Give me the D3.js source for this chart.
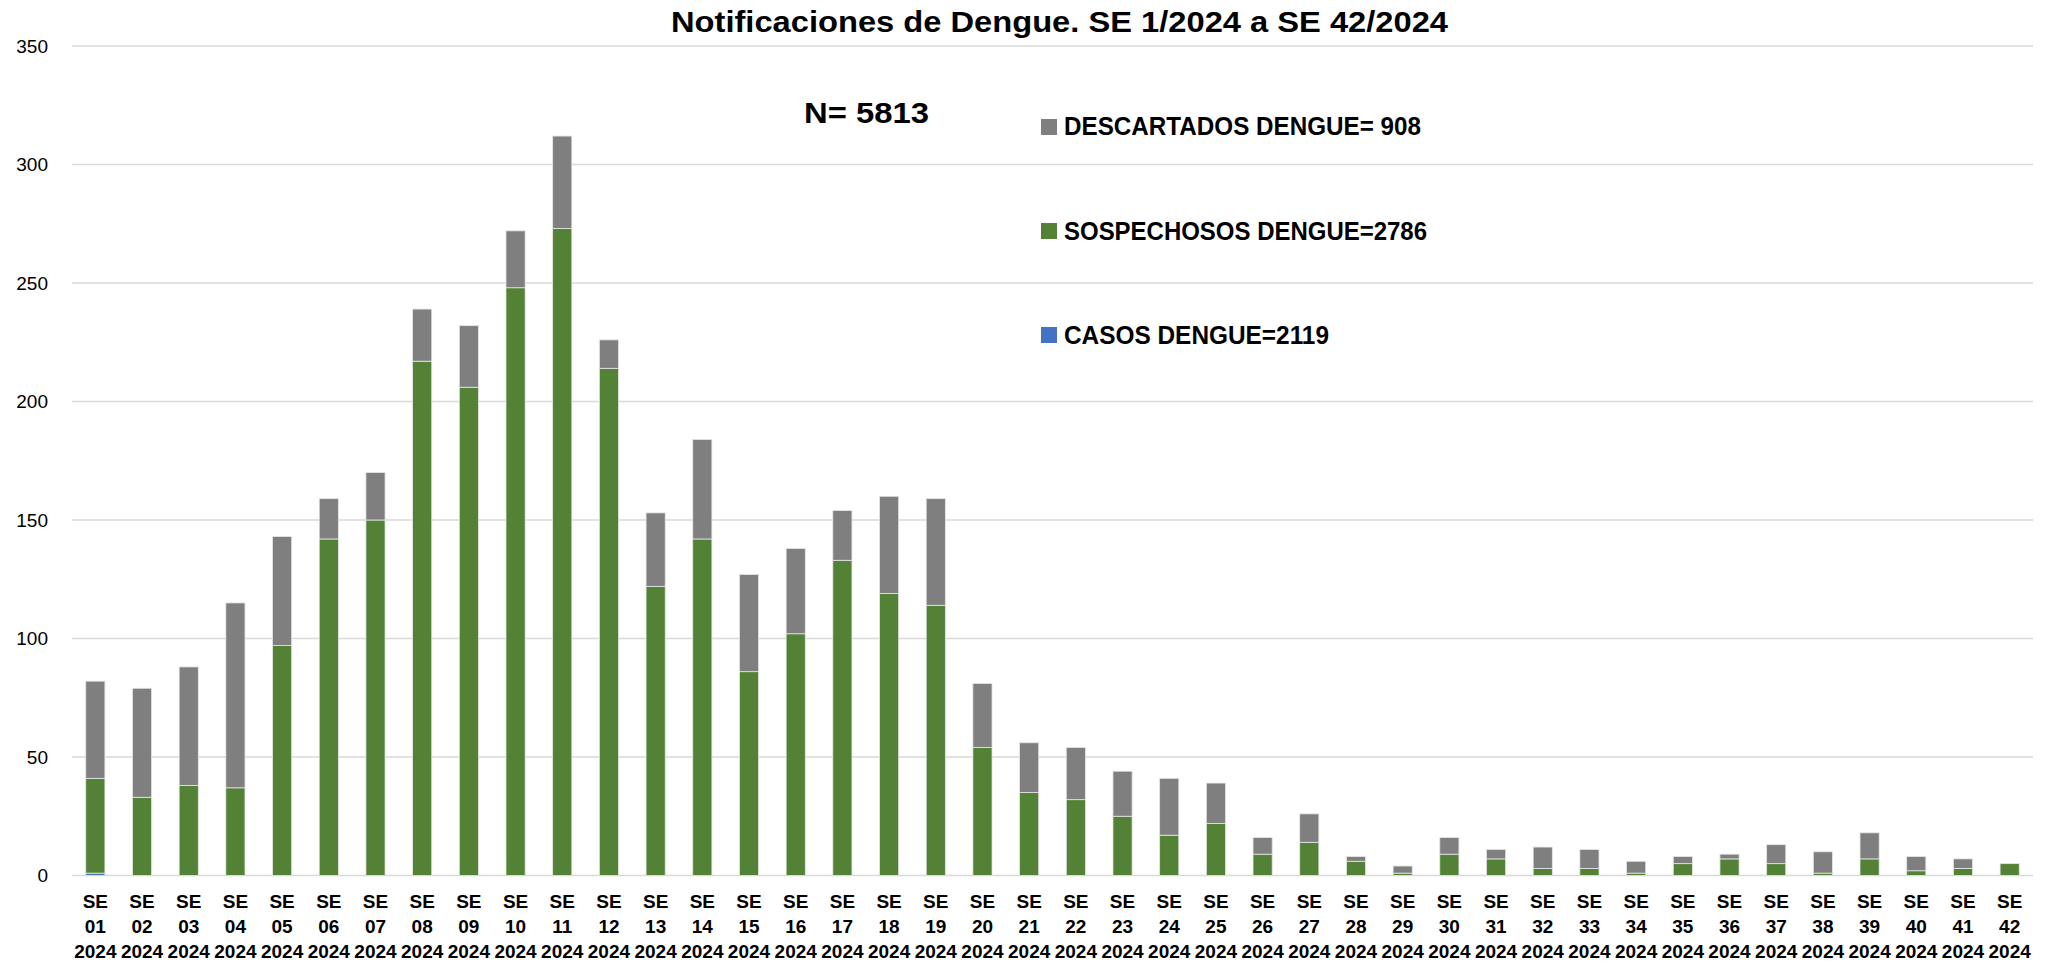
<!DOCTYPE html>
<html><head><meta charset="utf-8">
<script src="https://cdn.jsdelivr.net/npm/d3@7"></script>
<style>
html,body{margin:0;padding:0;background:#fff;}
svg{display:block;font-family:"Liberation Sans",Arial,sans-serif;}
</style></head>
<body>
<svg id="chart" width="2051" height="964"></svg>
<script>
const weeks = ["01","02","03","04","05","06","07","08","09","10","11","12","13","14","15","16","17","18","19","20","21","22","23","24","25","26","27","28","29","30","31","32","33","34","35","36","37","38","39","40","41","42"];
const casos = [1,0,0,0,0,0,0,0,0,0,0,0,0,0,0,0,0,0,0,0,0,0,0,0,0,0,0,0,0,0,0,0,0,0,0,0,0,0,0,0,0,0];
const sospechosos = [40,33,38,37,97,142,150,217,206,248,273,214,122,142,86,102,133,119,114,54,35,32,25,17,22,9,14,6,1,9,7,3,3,1,5,7,5,1,7,2,3,5];
const descartados = [41,46,50,78,46,17,20,22,26,24,39,12,31,42,41,36,21,41,45,27,21,22,19,24,17,7,12,2,3,7,4,9,8,5,3,2,8,9,11,6,4,0];
const yTicks = [0,50,100,150,200,250,300,350];
const seriesNames = ["CASOS DENGUE=2119","SOSPECHOSOS DENGUE=2786","DESCARTADOS DENGUE= 908"];
const titleText = "Notificaciones de Dengue. SE 1/2024 a SE 42/2024";
const nText = "N= 5813";

(function(){
const colors = {casos:"#4472c4", sospechosos:"#538135", descartados:"#7f7f7f"};

const rows = weeks.map((w,i)=>({week:w, casos:casos[i], sospechosos:sospechosos[i], descartados:descartados[i]}));
const keys = ["casos","sospechosos","descartados"];

const svg = d3.select("#chart");
const pLeft = 72, pRight = 2033, pTop = 46, pBottom = 875.5;

const x = d3.scaleBand().domain(weeks).range([pLeft,pRight]).paddingInner(0.59).paddingOuter(0.295);
const y = d3.scaleLinear().domain([0,350]).range([pBottom,pTop]);

// gridlines
svg.append("g").selectAll("line").data(yTicks).join("line")
  .attr("x1",pLeft).attr("x2",pRight)
  .attr("y1",d=>y(d)).attr("y2",d=>y(d))
  .attr("stroke","#d9d9d9").attr("stroke-width",1.6);

// y axis labels
const yAxis = d3.axisLeft(y).tickValues(yTicks).tickSize(0).tickPadding(0);
const gy = svg.append("g").attr("transform",`translate(48,0)`).call(yAxis);
gy.select(".domain").remove();
gy.selectAll("text").attr("font-size",19).attr("fill","#000").attr("font-family","Liberation Sans, Arial, sans-serif");

// bars
const stack = d3.stack().keys(keys)(rows);
svg.append("g").selectAll("g").data(stack).join("g")
  .attr("fill",d=>colors[d.key])
  .selectAll("rect").data(d=>d).join("rect")
  .attr("x",d=>x(d.data.week))
  .attr("width",x.bandwidth())
  .attr("y",d=>y(d[1]))
  .attr("height",d=>Math.max(0,y(d[0])-y(d[1])))
  .attr("stroke","#e6e6e6").attr("stroke-width",0.8);

// x axis labels
const xAxis = d3.axisBottom(x).tickSize(0).tickPadding(0);
const gx = svg.append("g").attr("transform",`translate(0,${pBottom})`).call(xAxis);
gx.select(".domain").remove();
gx.selectAll("text").each(function(d){
  const t = d3.select(this);
  t.text(null).attr("y",0).attr("dy",null)
   .attr("font-size",19).attr("font-weight","bold").attr("fill","#000")
   .attr("font-family","Liberation Sans, Arial, sans-serif");
  ["SE", d, "2024"].forEach((s,k)=>{
    t.append("tspan").attr("x",0).attr("y",[32,57.5,82][k]).text(s);
  });
});

// title
svg.append("text").attr("x",1059.5).attr("y",32).attr("text-anchor","middle")
  .attr("font-size",30).attr("font-weight","bold")
  .attr("textLength",777).attr("lengthAdjust","spacingAndGlyphs").text(titleText);

// N label
svg.append("text").attr("x",804).attr("y",123)
  .attr("font-size",30).attr("font-weight","bold")
  .attr("textLength",125).attr("lengthAdjust","spacingAndGlyphs").text(nText);

// legend
const legend = [
  {name:seriesNames[2], color:colors.descartados, ys:119, yb:135, w:357},
  {name:seriesNames[1], color:colors.sospechosos, ys:223, yb:240, w:363},
  {name:seriesNames[0], color:colors.casos, ys:327, yb:344, w:265}
];
const lg = svg.append("g");
lg.selectAll("rect").data(legend).join("rect")
  .attr("x",1041).attr("y",d=>d.ys).attr("width",16).attr("height",16).attr("fill",d=>d.color);
lg.selectAll("text").data(legend).join("text")
  .attr("x",1064).attr("y",d=>d.yb)
  .attr("font-size",25).attr("font-weight","bold")
  .attr("textLength",d=>d.w).attr("lengthAdjust","spacingAndGlyphs")
  .text(d=>d.name);
})();
</script>
</body></html>
